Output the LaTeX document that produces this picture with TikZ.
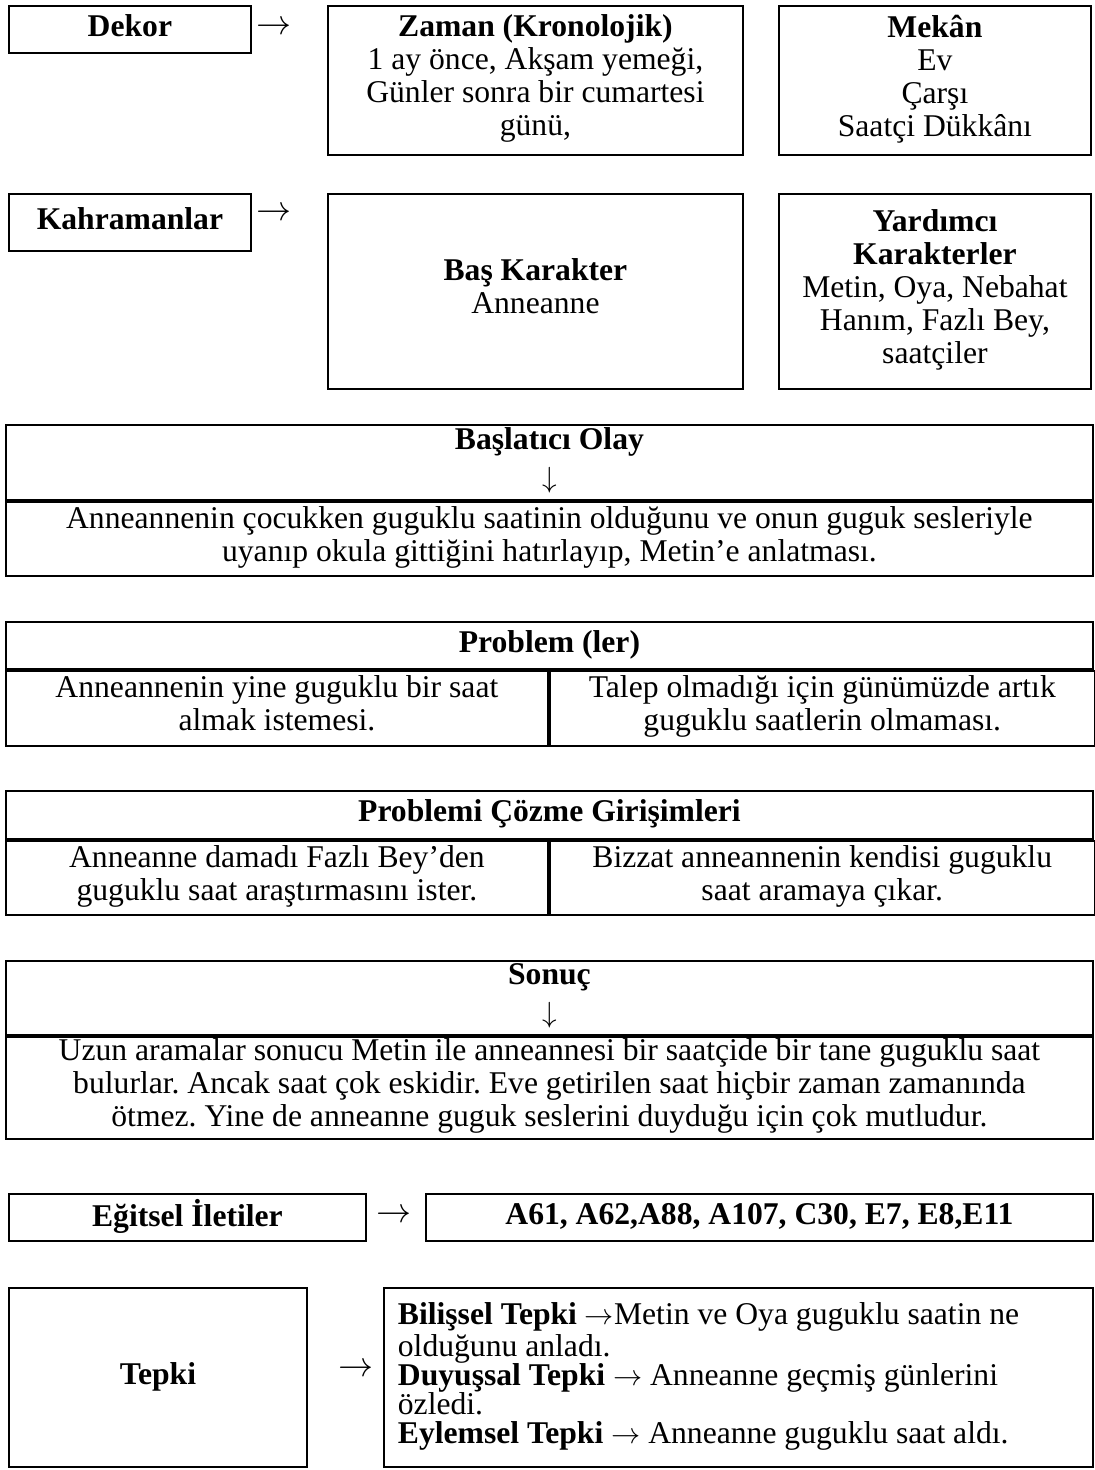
\documentclass[tikz,border=0pt]{standalone}
\usepackage{fontspec}
\setmainfont{Liberation Serif}
\usetikzlibrary{positioning,calc}
\newcommand{\pxu}{0.025cm}
\newcommand{\bodyfont}{\fontsize{22.5}{23.5}\selectfont\frenchspacing}
\newcommand{\ra}{$\rightarrow$}
\tikzset{
    cell/.style={rectangle, draw=black, line width=1.3pt, anchor=north west, inner sep=0pt, align=center, font=\bodyfont,
        execute at begin node=\strut, execute at end node=\strut},
    sign/.style={inner sep=1pt, font=\fontsize{26}{26}\selectfont},
    listcell/.style={cell, align=flush left, inner xsep=14*\pxu, font=\fontsize{22.5}{20.8}\selectfont\frenchspacing},
}
\begin{document}
\begin{tikzpicture}[x=0.025cm, y=-0.025cm]
    \useasboundingbox (0,0) rectangle (1095,1470);
    % Dekor
    \node[cell, minimum width=242*\pxu, minimum height=47*\pxu] (dekor) at (8,5) {\textbf{Dekor}};
    \node[sign] (dekorarrow) at (274,28) {\ra};
    \node[cell, minimum width=415*\pxu, minimum height=149*\pxu] (zaman) at (327,5)
        {\textbf{Zaman (Kronolojik)}\\1 ay önce, Akşam yemeği,\\Günler sonra bir cumartesi\\günü,};
    \node[cell, minimum width=312*\pxu, minimum height=149*\pxu] (mekan) at (778,5)
        {\textbf{Mekân}\\Ev\\Çarşı\\Saatçi Dükkânı};
    % Kahramanlar
    \node[cell, minimum width=242*\pxu, minimum height=57*\pxu] (kahraman) at (8,193) {\textbf{Kahramanlar}};
    \node[sign] (kahramanarrow) at (274,214) {\ra};
    \node[cell, minimum width=415*\pxu, minimum height=195*\pxu] (baskarakter) at (327,193)
        {\textbf{Baş Karakter}\\Anneanne};
    \node[cell, minimum width=312*\pxu, minimum height=195*\pxu] (yardimci) at (778,193)
        {\textbf{Yardımcı}\\\textbf{Karakterler}\\Metin, Oya, Nebahat\\Hanım, Fazlı Bey,\\saatçiler};
    % Başlatıcı Olay
    \node[cell, minimum width=1087*\pxu, minimum height=75*\pxu] (baslatici) at (5,424)
        {\textbf{Başlatıcı Olay}\\[3pt]$\downarrow$};
    \node[cell, minimum width=1087*\pxu, minimum height=74*\pxu] (baslaticitext) at (baslatici.south west)
        {Anneannenin çocukken guguklu saatinin olduğunu ve onun guguk sesleriyle\\uyanıp okula gittiğini hatırlayıp, Metin’e anlatması.};
    % Problem (ler)
    \node[cell, minimum width=1087*\pxu, minimum height=47*\pxu] (problem) at (5,621) {\textbf{Problem (ler)}};
    \node[cell, minimum width=542*\pxu, minimum height=75*\pxu] (problemleft) at (problem.south west)
        {Anneannenin yine guguklu bir saat\\almak istemesi.};
    \node[cell, minimum width=545*\pxu, minimum height=75*\pxu] (problemright) at (problemleft.north east)
        {Talep olmadığı için günümüzde artık\\guguklu saatlerin olmaması.};
    % Problemi Çözme Girişimleri
    \node[cell, minimum width=1087*\pxu, minimum height=48*\pxu] (cozum) at (5,790) {\textbf{Problemi Çözme Girişimleri}};
    \node[cell, minimum width=542*\pxu, minimum height=74*\pxu] (cozumleft) at (cozum.south west)
        {Anneanne damadı Fazlı Bey’den\\guguklu saat araştırmasını ister.};
    \node[cell, minimum width=545*\pxu, minimum height=74*\pxu] (cozumright) at (cozumleft.north east)
        {Bizzat anneannenin kendisi guguklu\\saat aramaya çıkar.};
    % Sonuç
    \node[cell, minimum width=1087*\pxu, minimum height=74*\pxu] (sonuc) at (5,960)
        {\textbf{Sonuç}\\[3pt]$\downarrow$};
    \node[cell, minimum width=1087*\pxu, minimum height=102*\pxu] (sonuctext) at (sonuc.south west)
        {Uzun aramalar sonucu Metin ile anneannesi bir saatçide bir tane guguklu saat\\bulurlar. Ancak saat çok eskidir. Eve getirilen saat hiçbir zaman zamanında\\ötmez. Yine de anneanne guguk seslerini duyduğu için çok mutludur.};
    % Eğitsel İletiler
    \node[cell, minimum width=357*\pxu, minimum height=47*\pxu] (egitsel) at (8,1193) {\textbf{Eğitsel İletiler}};
    \node[sign] (egitselarrow) at (394,1216) {\ra};
    \node[cell, minimum width=667*\pxu, minimum height=47*\pxu] (iletiler) at (425,1193)
        {\textbf{A61, A62,A88, A107, C30, E7, E8,E11}};
    % Tepki
    \node[cell, minimum width=298*\pxu, minimum height=179*\pxu] (tepki) at (8,1287) {\textbf{Tepki}};
    \node[sign] (tepkiarrow) at (356,1370) {\ra};
    \node[listcell, text width=681*\pxu, minimum height=179*\pxu] (tepkiler) at (383,1287)
        {\textbf{Bilişsel Tepki} \ra Metin ve Oya guguklu saatin ne\\olduğunu anladı.\\
         \textbf{Duyuşsal Tepki} \ra{} Anneanne geçmiş günlerini\\özledi.\\
         \textbf{Eylemsel Tepki} \ra{} Anneanne guguklu saat aldı.};
\end{tikzpicture}
\end{document}
